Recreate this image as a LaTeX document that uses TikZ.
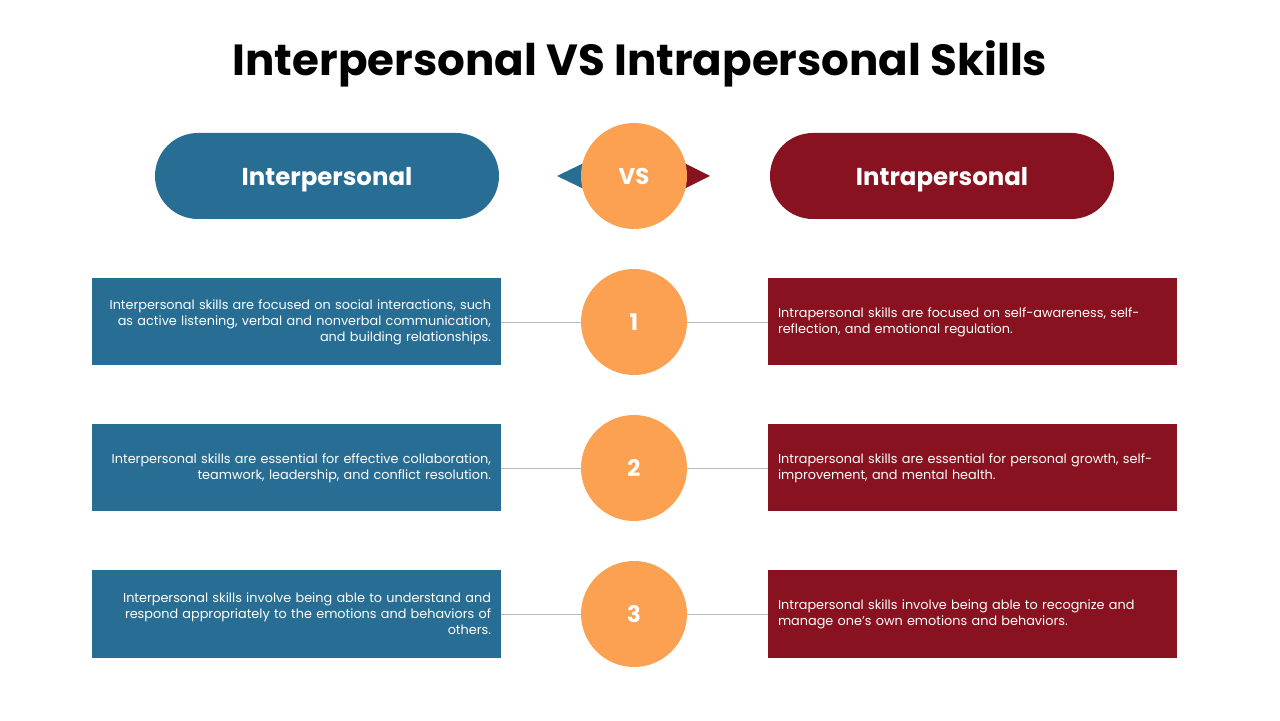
\documentclass[tikz,border=0pt]{standalone}
\usepackage{fontspec}
\setmainfont{Poppins}
\usetikzlibrary{positioning}
\definecolor{interblue}{HTML}{286E94}
\definecolor{intrared}{HTML}{891220}
\definecolor{vsorange}{HTML}{FCA152}

\begin{document}
\begin{tikzpicture}[
    pill/.style={rectangle, rounded corners=0.86cm, minimum width=6.88cm, minimum height=1.72cm,
                 inner sep=0pt, text depth=0pt, text=white, font=\fontsize{13.9}{16}\selectfont\bfseries},
    infobox/.style={rectangle, minimum width=8.18cm, minimum height=1.74cm, inner sep=0.2cm,
                    text width=7.78cm, text=white, font=\fontsize{7.3}{9.1}\selectfont},
    numdot/.style={circle, fill=vsorange, minimum size=2.12cm, inner sep=0pt, text=white,
                   font=\fontsize{13}{15}\selectfont\bfseries},
    link/.style={draw=gray!55, line width=0.5pt}]
    \useasboundingbox (0,0) rectangle (25.6,14.4);

    % Title
    \node (title) at (12.8,13.12) {\fontsize{24.8}{28}\selectfont\bfseries Interpersonal VS Intrapersonal Skills};

    % Header pills
    \node[pill, fill=interblue] (inter) at (6.54,10.88) {Interpersonal};
    \node[pill, fill=intrared] (intra) at (18.84,10.88) {Intrapersonal};

    % VS arrows and circle
    \fill[interblue] (11.14,10.88) -- (11.8,11.2) -- (11.8,10.56) -- cycle;
    \fill[intrared] (14.2,10.88) -- (13.56,11.2) -- (13.56,10.56) -- cycle;
    \node[numdot] (vs) at (12.68,10.88) {VS};

    % Numbered circles
    \node[numdot] (n1) at (12.68,7.96) {1};
    \node[numdot] (n2) at (12.68,5.04) {2};
    \node[numdot] (n3) at (12.68,2.12) {3};

    % Left boxes
    \node[infobox, fill=interblue, align=right] (b1) at (5.93,7.96)
        {Interpersonal skills are focused on social interactions, such\\ as active listening, verbal and nonverbal communication,\\ and building relationships.};
    \node[infobox, fill=interblue, align=right] (b2) at (5.93,5.04)
        {Interpersonal skills are essential for effective collaboration,\\ teamwork, leadership, and conflict resolution.};
    \node[infobox, fill=interblue, align=right] (b3) at (5.93,2.12)
        {Interpersonal skills involve being able to understand and\\ respond appropriately to the emotions and behaviors of\\ others.};

    % Right boxes
    \node[infobox, fill=intrared, align=left] (r1) at (19.45,7.96)
        {Intrapersonal skills are focused on self-awareness, self-\\ reflection, and emotional regulation.};
    \node[infobox, fill=intrared, align=left] (r2) at (19.45,5.04)
        {Intrapersonal skills are essential for personal growth, self-\\ improvement, and mental health.};
    \node[infobox, fill=intrared, align=left] (r3) at (19.45,2.12)
        {Intrapersonal skills involve being able to recognize and\\ manage one's own emotions and behaviors.};

    % Connectors
    \draw[link] (b1.east) -- (n1.west);
    \draw[link] (n1.east) -- (r1.west);
    \draw[link] (b2.east) -- (n2.west);
    \draw[link] (n2.east) -- (r2.west);
    \draw[link] (b3.east) -- (n3.west);
    \draw[link] (n3.east) -- (r3.west);
\end{tikzpicture}
\end{document}
